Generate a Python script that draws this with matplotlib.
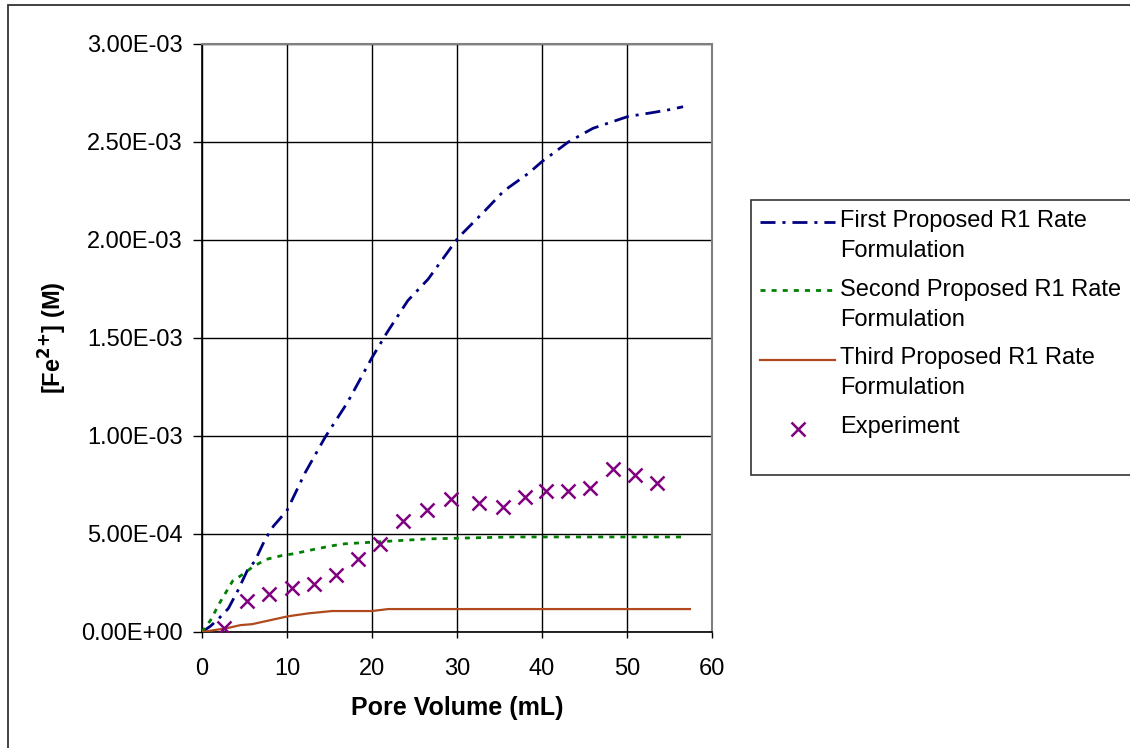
import matplotlib
matplotlib.use("Agg")
import matplotlib.pyplot as plt
from matplotlib.lines import Line2D
from matplotlib.patches import Rectangle

plt.rcParams['font.family'] = ['Liberation Sans', 'DejaVu Sans']

# Model curves: pore volume (mL) vs [Fe2+] (M)
first_x = [0, 1, 2, 3.1, 4.2, 5.4, 6.2, 7.4, 8.4, 10, 12.1, 14.5, 17.1, 20, 21.8,
           24.2, 26.6, 30.1, 33.3, 35.5, 38.4, 40, 43.1, 46, 50.1, 53, 55, 56.6]
first_y = [0, 0.03e-3, 0.07e-3, 0.12e-3, 0.21e-3, 0.32e-3, 0.36e-3, 0.47e-3, 0.54e-3,
           0.62e-3, 0.81e-3, 0.995e-3, 1.17e-3, 1.40e-3, 1.53e-3, 1.69e-3, 1.80e-3,
           2.01e-3, 2.15e-3, 2.25e-3, 2.34e-3, 2.40e-3, 2.50e-3, 2.57e-3, 2.63e-3,
           2.65e-3, 2.665e-3, 2.68e-3]

second_x = [0, 1, 2.1, 3.6, 5, 5.9, 7.5, 9.4, 10.9, 13, 15.3, 16.8, 20.7, 26.6,
            36.5, 45, 56.8]
second_y = [0, 0.06e-3, 0.15e-3, 0.26e-3, 0.30e-3, 0.33e-3, 0.37e-3, 0.39e-3,
            0.40e-3, 0.42e-3, 0.44e-3, 0.45e-3, 0.46e-3, 0.475e-3, 0.485e-3,
            0.485e-3, 0.485e-3]

third_x = [0, 1.5, 3, 4.5, 5.9, 8, 10.1, 12.5, 15.3, 20, 21.9, 30, 40, 50, 57.4]
third_y = [0, 0.01e-3, 0.02e-3, 0.035e-3, 0.04e-3, 0.06e-3, 0.08e-3, 0.095e-3,
           0.107e-3, 0.107e-3, 0.117e-3, 0.117e-3, 0.117e-3, 0.117e-3, 0.117e-3]

# Measured values
exp_x = [2.6, 5.3, 7.9, 10.6, 13.2, 15.8, 18.4, 20.9, 23.6, 26.5, 29.3, 32.6,
         35.4, 38.0, 40.5, 43.1, 45.6, 48.4, 50.9, 53.5]
exp_y = [0.02e-3, 0.158e-3, 0.194e-3, 0.224e-3, 0.245e-3, 0.29e-3, 0.37e-3,
         0.45e-3, 0.566e-3, 0.62e-3, 0.68e-3, 0.66e-3, 0.64e-3, 0.69e-3,
         0.72e-3, 0.72e-3, 0.735e-3, 0.83e-3, 0.80e-3, 0.76e-3]

series_names = ["First Proposed R1 Rate\nFormulation",
                "Second Proposed R1 Rate\nFormulation",
                "Third Proposed R1 Rate\nFormulation",
                "Experiment"]

x_ticks = [0, 10, 20, 30, 40, 50, 60]
y_ticks = [0, 0.5e-3, 1.0e-3, 1.5e-3, 2.0e-3, 2.5e-3, 3.0e-3]
y_tick_labels = ["0.00E+00", "5.00E-04", "1.00E-03", "1.50E-03", "2.00E-03",
                 "2.50E-03", "3.00E-03"]

FS = 17
W, H = 1130, 748
fig = plt.figure(figsize=(W / 100, H / 100), dpi=100)
fig.patch.set_facecolor('white')

ax = fig.add_axes([202 / W, 1 - 632 / H, (712 - 202) / W, (632 - 44) / H])

blue = '#000080'
green = '#008000'
brown = '#B04A1E'
purple = '#800080'

style_first = dict(color=blue, lw=2.0, dashes=(5.4, 2.5, 1.1, 2.5))
style_second = dict(color=green, lw=2.0, dashes=(1.8, 2.2))
style_third = dict(color=brown, lw=1.6, linestyle='-')
style_exp = dict(color=purple, linestyle='none', marker='x', markersize=9.5,
                 markeredgewidth=1.8)

ax.plot(first_x, first_y, **style_first, zorder=3)
ax.plot(second_x, second_y, **style_second, zorder=3)
ax.plot(third_x, third_y, **style_third, zorder=3)
ax.plot(exp_x, exp_y, **style_exp, zorder=4)

ax.set_xlim(0, 60)
ax.set_ylim(0, 3.0e-3)
ax.set_xticks(x_ticks)
ax.set_xticklabels([str(t) for t in x_ticks])
ax.set_yticks(y_ticks)
ax.set_yticklabels(y_tick_labels)
ax.tick_params(axis='both', direction='out', width=1, colors='black',
               labelsize=FS)
ax.tick_params(axis='x', length=4.5, pad=14)
ax.tick_params(axis='y', length=6.5, pad=7.2)
ax.grid(True, color='black', lw=1.0)
ax.set_axisbelow(True)
for side in ['left', 'bottom']:
    ax.spines[side].set_color('black')
    ax.spines[side].set_linewidth(1.2)
for side in ['top', 'right']:
    ax.spines[side].set_color('#808080')
    ax.spines[side].set_linewidth(1.5)

ax.set_xlabel("Pore Volume (mL)", fontsize=18, fontweight='bold', labelpad=12)
ax.set_ylabel(r"[Fe$^{\mathbf{2{+}}}$] (M)", fontsize=FS, fontweight='bold',
              labelpad=9)

# Outer chart frame
fig.add_artist(Rectangle((8 / W, -0.05), 1.2, 1 - 5 / H + 0.05,
                         transform=fig.transFigure, fill=False,
                         edgecolor='#333333', lw=1.3))

# Legend box and entries
lx0, ly_top, ly_bot = 751, 200, 475
fig.add_artist(Rectangle((lx0 / W, 1 - ly_bot / H), 1.0, (ly_bot - ly_top) / H,
                         transform=fig.transFigure, facecolor='white',
                         edgecolor='#333333', lw=1.2))

handle_y = [222, 290, 360, 429]
baseline_y = [227, 296, 364, 433]
line_gap = 30
styles = [style_first, style_second, style_third]
for i, name in enumerate(series_names):
    hy = 1 - handle_y[i] / H
    if i < 3:
        fig.add_artist(Line2D([760 / W, 835 / W], [hy, hy],
                              transform=fig.transFigure, **styles[i]))
    else:
        fig.add_artist(Line2D([798 / W], [hy], transform=fig.transFigure,
                              **style_exp))
    for k, part in enumerate(name.split("\n")):
        fig.text(840 / W, 1 - (baseline_y[i] + k * line_gap) / H, part,
                 fontsize=FS, va='baseline', ha='left',
                 transform=fig.transFigure)

fig.savefig("out.png", dpi=100)
